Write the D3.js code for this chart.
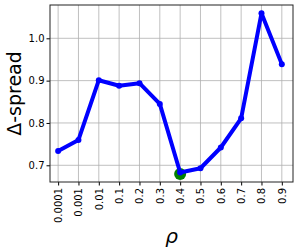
<!DOCTYPE html>
<html>
<head>
<meta charset="utf-8">
<script src="https://cdn.jsdelivr.net/npm/d3@7"></script>
<style>
  body { margin: 0; background: #fff; }
  svg { display: block; }
  text { font-family: "DejaVu Sans", sans-serif; }
</style>
</head>
<body>
<div id="chart"></div>
<script>

// rho values on the x axis and the spread for each
var rhoLabels = ["0.0001", "0.001", "0.01", "0.1", "0.2", "0.3", "0.4", "0.5", "0.6", "0.7", "0.8", "0.9"];
var spread = [0.734, 0.760, 0.901, 0.888, 0.894, 0.845, 0.683, 0.693, 0.742, 0.811, 1.059, 0.939];
var yTicks = [0.7, 0.8, 0.9, 1.0];
var bestIndex = 6;

var width = 299, height = 252;
var margin = { left: 50, right: 6, top: 5, bottom: 70 };
var plotW = width - margin.left - margin.right;
var plotH = height - margin.top - margin.bottom;

var svg = d3.select("#chart").append("svg")
    .attr("width", width)
    .attr("height", height);

var g = svg.append("g")
    .attr("transform", "translate(" + margin.left + "," + margin.top + ")");

// index scale with matplotlib-like padding
var x = d3.scaleLinear()
    .domain([-0.4, rhoLabels.length - 1 + 0.55])
    .range([0, plotW]);

var y = d3.scaleLinear()
    .domain([0.6605, 1.0787])
    .range([plotH, 0]);

// grid
g.append("g")
  .selectAll("line")
  .data(rhoLabels)
  .enter().append("line")
    .attr("x1", function(d, i) { return x(i); })
    .attr("x2", function(d, i) { return x(i); })
    .attr("y1", 0)
    .attr("y2", plotH)
    .style("stroke", "#b0b0b0")
    .style("stroke-width", 0.8);

g.append("g")
  .selectAll("line")
  .data(yTicks)
  .enter().append("line")
    .attr("x1", 0)
    .attr("x2", plotW)
    .attr("y1", function(d) { return y(d); })
    .attr("y2", function(d) { return y(d); })
    .style("stroke", "#b0b0b0")
    .style("stroke-width", 0.8);

// axes
var xAxis = d3.axisBottom(x)
    .tickValues(d3.range(rhoLabels.length))
    .tickFormat(function(i) { return rhoLabels[i]; })
    .tickSize(3.5)
    .tickSizeOuter(0);

var xg = g.append("g")
    .attr("transform", "translate(0," + plotH + ")")
    .call(xAxis);
xg.select(".domain").remove();
xg.selectAll("text")
    .attr("transform", "rotate(-90)")
    .attr("text-anchor", "end")
    .attr("x", -6)
    .attr("y", 0)
    .attr("dy", "0.35em")
    .style("font-size", "10px")
    .style("fill", "#000");

var yAxis = d3.axisLeft(y)
    .tickValues(yTicks)
    .tickFormat(d3.format(".1f"))
    .tickSize(3.5)
    .tickSizeOuter(0);

var yg = g.append("g").call(yAxis);
yg.select(".domain").remove();
yg.selectAll("text")
    .attr("x", -5.5)
    .style("font-size", "10px")
    .style("fill", "#000");

// frame
g.append("rect")
    .attr("width", plotW)
    .attr("height", plotH)
    .style("fill", "none")
    .style("stroke", "#222")
    .style("stroke-width", 1);

// best point marker
g.append("circle")
    .attr("cx", x(bestIndex))
    .attr("cy", y(spread[bestIndex]) + 1.5)
    .attr("r", 6)
    .style("fill", "#008000");

// line
var line = d3.line()
    .x(function(d, i) { return x(i); })
    .y(function(d) { return y(d); });

g.append("path")
    .datum(spread)
    .attr("d", line)
    .style("fill", "none")
    .style("stroke", "#0000ff")
    .style("stroke-width", 4)
    .style("stroke-linejoin", "round");

g.append("g")
  .selectAll("circle")
  .data(spread)
  .enter().append("circle")
    .attr("cx", function(d, i) { return x(i); })
    .attr("cy", function(d) { return y(d); })
    .attr("r", 3)
    .style("fill", "#0000ff");

// labels
svg.append("text")
    .attr("transform", "translate(21," + (margin.top + plotH / 2) + ") rotate(-90)")
    .attr("text-anchor", "middle")
    .style("font-size", "19px")
    .text("Δ-spread");

svg.append("text")
    .attr("x", margin.left + plotW / 2)
    .attr("y", 243)
    .attr("text-anchor", "middle")
    .style("font-size", "20px")
    .style("font-style", "italic")
    .text("ρ");

</script>
</body>
</html>
